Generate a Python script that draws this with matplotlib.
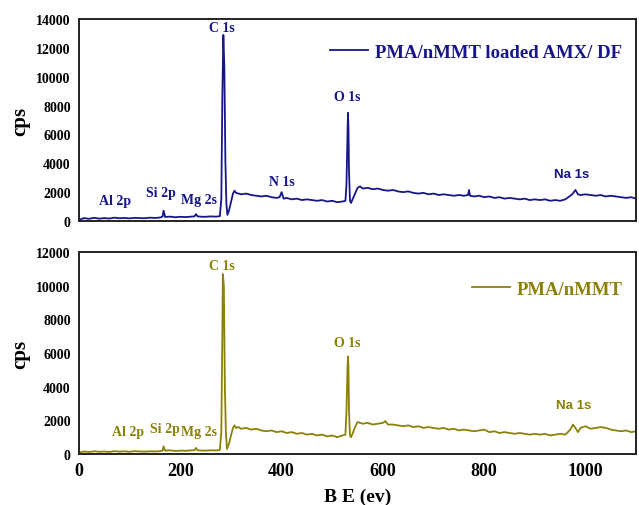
import matplotlib
matplotlib.use('Agg')
import matplotlib.pyplot as plt

# XPS survey spectra
be_top = [0, 10, 20, 30, 40, 50, 60, 70, 80, 90, 100, 110, 120, 130, 140, 150, 160, 165, 167, 170,
          180, 190, 200, 210, 220, 228, 231, 234, 240, 250, 260, 270, 278, 281, 283, 285, 287, 289,
          291, 293, 296, 300, 304, 307, 310, 315, 320, 330, 340, 350, 360, 370, 380, 390, 396, 400,
          404, 410, 420, 430, 440, 450, 460, 470, 480, 490, 500, 510, 520, 526, 528, 530, 531, 532,
          533, 535, 537, 540, 545, 550, 555, 560, 570, 580, 590, 600, 610, 620, 630, 640, 650, 660,
          670, 680, 690, 700, 710, 720, 730, 740, 750, 760, 768, 770, 772, 780, 790, 800, 810, 820,
          830, 840, 850, 860, 870, 880, 890, 900, 910, 920, 930, 940, 950, 960, 970, 975, 980, 985,
          990, 1000, 1010, 1020, 1030, 1040, 1050, 1060, 1070, 1080, 1090, 1100]
cps_top = [80, 200, 150, 220, 160, 200, 170, 230, 190, 210, 180, 220, 200, 190, 230, 210, 240, 300, 720, 280,
           300, 260, 290, 270, 300, 320, 480, 320, 300, 290, 320, 300, 330, 1500, 8600, 12900, 10600, 4200,
           1200, 420, 700, 1300, 1900, 2100, 1950, 1900, 1850, 1900, 1800, 1750, 1700, 1750, 1650, 1600, 1650, 2000,
           1550, 1600, 1500, 1550, 1450, 1500, 1450, 1400, 1450, 1350, 1400, 1300, 1350, 1400, 2500, 6000, 7500, 6500,
           3500, 1400, 1250, 1500, 1900, 2300, 2400, 2250, 2300, 2200, 2250, 2150, 2100, 2150, 2050, 2000, 2050, 1950,
           1900, 1950, 1850, 1900, 1800, 1850, 1800, 1750, 1800, 1750, 1800, 2150, 1750, 1700, 1750, 1650, 1700, 1600,
           1650, 1550, 1600, 1550, 1500, 1550, 1450, 1500, 1450, 1500, 1400, 1450, 1400, 1500, 1750, 1900, 2150, 1850,
           1800, 1850, 1800, 1750, 1800, 1700, 1750, 1700, 1650, 1600, 1650, 1550]

be_bot = [0, 10, 20, 30, 40, 50, 60, 70, 80, 90, 100, 110, 120, 130, 140, 150, 160, 165, 167, 170,
          180, 190, 200, 210, 220, 228, 231, 234, 240, 250, 260, 270, 278, 281, 283, 284, 286, 288,
          290, 292, 296, 300, 304, 307, 310, 315, 320, 330, 340, 350, 360, 370, 380, 390, 400, 410,
          420, 430, 440, 450, 460, 470, 480, 490, 500, 510, 520, 526, 528, 530, 531, 532, 533, 535,
          537, 540, 545, 550, 555, 560, 570, 580, 590, 600, 605, 610, 620, 630, 640, 650, 660, 670,
          680, 690, 700, 710, 720, 730, 740, 750, 760, 770, 780, 790, 800, 810, 820, 830, 840, 850,
          860, 870, 880, 890, 900, 910, 920, 930, 940, 950, 960, 970, 975, 980, 985, 990, 1000, 1010,
          1020, 1030, 1040, 1050, 1060, 1070, 1080, 1090, 1100]
cps_bot = [80, 150, 120, 160, 130, 150, 120, 170, 140, 160, 130, 170, 150, 140, 160, 150, 170, 200, 460, 200,
           220, 180, 200, 190, 210, 230, 360, 220, 210, 200, 220, 210, 240, 1300, 7000, 10700, 10000, 4000,
           1300, 300, 600, 1100, 1550, 1700, 1550, 1600, 1500, 1550, 1450, 1500, 1400, 1350, 1400, 1300, 1350, 1250,
           1300, 1200, 1250, 1150, 1200, 1100, 1150, 1050, 1100, 1000, 1100, 1150, 2500, 5000, 5800, 5200, 2600, 1100,
           1000, 1200, 1600, 1900, 1850, 1800, 1850, 1750, 1800, 1850, 1950, 1750, 1750, 1700, 1650, 1700, 1600, 1650,
           1550, 1600, 1550, 1500, 1550, 1450, 1500, 1400, 1450, 1400, 1350, 1400, 1450, 1300, 1350, 1250, 1300, 1250,
           1200, 1250, 1200, 1150, 1200, 1150, 1200, 1100, 1150, 1200, 1150, 1450, 1750, 1550, 1300, 1550, 1650, 1500,
           1550, 1600, 1550, 1450, 1400, 1350, 1400, 1300, 1350]

# peak labels: (text, BE, cps)
labels_top = [('Al 2p', 71, 1450), ('Si 2p', 161, 2000), ('Mg 2s', 236, 1500), ('C 1s', 283, 13400),
              ('N 1s', 401, 2750), ('O 1s', 529, 8650), ('Na 1s', 972, 3250)]
labels_bot = [('Al 2p', 97, 1320), ('Si 2p', 169, 1520), ('Mg 2s', 236, 1320), ('C 1s', 283, 11200),
              ('O 1s', 529, 6650), ('Na 1s', 976, 2900)]

navy = '#16168a'
olive = '#8a8207'

plt.rcParams['font.family'] = ['Liberation Serif', 'DejaVu Serif']
plt.rcParams['font.weight'] = 'bold'

fig = plt.figure(figsize=(6.39, 5.06), dpi=100)
ax1 = fig.add_axes([0.1236, 0.5613, 0.872, 0.399])
ax2 = fig.add_axes([0.1236, 0.1008, 0.872, 0.399])


def style(ax, ymax):
    ax.set_xlim(0, 1100)
    ax.set_ylim(0, ymax)
    ax.set_yticks(range(0, ymax + 1, 2000))
    ax.tick_params(length=0, labelsize=10, pad=6)
    for s in ax.spines.values():
        s.set_linewidth(1.4)
        s.set_color('#222222')
    for lab in ax.get_yticklabels() + ax.get_xticklabels():
        lab.set_fontweight('bold')
    ax.set_ylabel('cps', fontsize=15, fontweight='bold', labelpad=4)


ax1.plot(be_top, cps_top, color=navy, lw=1.3, label='PMA/nMMT loaded AMX/ DF')
style(ax1, 14000)
ax1.set_xticklabels([])
for txt, x, y in labels_top:
    fam = ['Liberation Sans', 'DejaVu Sans'] if txt == 'Na 1s' else None
    ax1.text(x, y, txt, color=navy, fontsize=9.5 if fam else 10, fontweight='bold',
             ha='center', va='center', family=fam)
ax1.legend(loc='center left', frameon=False, fontsize=13.5, handlelength=2.0, handletextpad=0.4,
           borderpad=0, borderaxespad=0, bbox_to_anchor=(0.4506, 0.837), labelcolor=navy)

ax2.plot(be_bot, cps_bot, color=olive, lw=1.3, label='PMA/nMMT')
style(ax2, 12000)
ax2.set_xticks([0, 200, 400, 600, 800, 1000])
for lab in ax2.get_xticklabels():
    lab.set_fontsize(13)
for txt, x, y in labels_bot:
    fam = ['Liberation Sans', 'DejaVu Sans'] if txt == 'Na 1s' else None
    ax2.text(x, y, txt, color=olive, fontsize=9.5 if fam else 10, fontweight='bold',
             ha='center', va='center', family=fam)
ax2.legend(loc='center left', frameon=False, fontsize=13.5, handlelength=2.0, handletextpad=0.4,
           borderpad=0, borderaxespad=0, bbox_to_anchor=(0.7056, 0.817), labelcolor=olive)
ax2.set_xlabel('B E (ev)', fontsize=14, fontweight='bold', labelpad=6)

fig.savefig('out.png', dpi=100)
